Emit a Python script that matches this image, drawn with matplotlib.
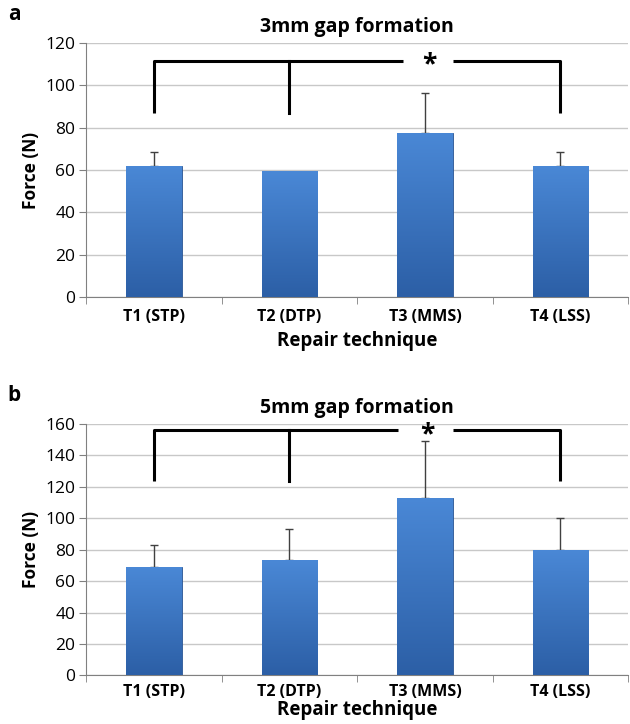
import matplotlib.pyplot as plt
import numpy as np
from matplotlib.colors import LinearSegmentedColormap

techniques = ['T1 (STP)', 'T2 (DTP)', 'T3 (MMS)', 'T4 (LSS)']

# panel a: 3mm gap
force_3mm = [62, 59.5, 77.5, 62]
err_3mm = [6.5, 0, 19, 6.5]
# panel b: 5mm gap
force_5mm = [69, 73.5, 113, 80]
err_5mm = [14, 20, 36, 20]

plt.rcParams['font.family'] = ['Open Sans', 'DejaVu Sans']

fig = plt.figure(figsize=(6.3, 7.24), dpi=100)
ax_a = fig.add_axes([0.137, 0.5898, 0.86, 0.3508])
ax_b = fig.add_axes([0.137, 0.067, 0.86, 0.3474])

grad = np.linspace(0, 1, 100).reshape(-1, 1)
cmap = LinearSegmentedColormap.from_list('bar', ['#2c5fa6', '#4a88d6'])


def panel(ax, vals, errs, ymax, step, title, letter, br_y, br_low, gap,
          tpad, lpad):
    x = np.arange(len(techniques))
    bars = ax.bar(x, vals, width=0.41, color='#3a74c2', edgecolor='#2a5593',
                  linewidth=0.6, zorder=3)
    for b in bars:
        x0, y0 = b.get_x(), b.get_y()
        w, h = b.get_width(), b.get_height()
        im = ax.imshow(grad, cmap=cmap, aspect='auto', origin='lower',
                       extent=[x0, x0 + w, y0, y0 + h], zorder=3.5)
        im.set_clip_path(b)
    errs = np.array(errs, dtype=float)
    keep = errs > 0
    ax.errorbar(x[keep], np.array(vals)[keep],
                yerr=[np.zeros(keep.sum()), errs[keep]], fmt='none',
                ecolor='#404040', elinewidth=1, capsize=3, capthick=1, zorder=2.5)

    ax.set_xlim(-0.5, len(techniques) - 0.5)
    ax.set_ylim(0, ymax)
    ax.set_yticks(np.arange(0, ymax + 1, step))
    ax.set_xticks(x)
    ax.set_xticklabels(techniques, fontweight='bold', fontsize=11.5)
    ax.set_xticks(np.arange(-0.5, len(techniques)), minor=True)
    ax.tick_params(axis='x', which='major', length=0, pad=tpad)
    ax.tick_params(axis='x', which='minor', length=5, color='#808080')
    ax.tick_params(axis='y', length=5, color='#808080', labelsize=12.5, pad=3)
    ax.grid(axis='y', color='#c8c8c8', linewidth=1, zorder=0)
    ax.set_axisbelow(True)
    for s in ['top', 'right']:
        ax.spines[s].set_visible(False)
    for s in ['left', 'bottom']:
        ax.spines[s].set_color('#808080')
    ax.set_ylabel('Force (N)', fontweight='bold', fontsize=12.5, labelpad=4)
    ax.set_xlabel('Repair technique', fontweight='bold', fontsize=13.5,
                  labelpad=lpad)
    ax.set_title(title, fontweight='bold', fontsize=14, pad=8)
    ax.text(-0.145, 1.07, letter, transform=ax.transAxes, fontsize=15,
            fontweight='bold', va='bottom')

    # significance bracket
    lw = 2.2
    ax.plot([0, 0, gap[0]], [br_low, br_y, br_y], color='black', lw=lw,
            solid_capstyle='butt', zorder=5)
    ax.plot([1, 1], [br_low, br_y], color='black', lw=lw, zorder=5)
    ax.plot([gap[1], 3, 3], [br_y, br_y, br_low], color='black', lw=lw,
            solid_capstyle='butt', zorder=5)
    ax.annotate('*', xy=((gap[0] + gap[1]) / 2 + 0.01, br_y),
                xytext=(0, -3), textcoords='offset points',
                ha='center', va='center', fontsize=19, fontweight='bold',
                zorder=5)


panel(ax_a, force_3mm, err_3mm, 120, 20, '3mm gap formation', 'a', 111.5, 87,
      (1.84, 2.21), 9, 4)
panel(ax_b, force_5mm, err_5mm, 160, 20, '5mm gap formation', 'b', 156, 124,
      (1.80, 2.21), 6, 0)

fig.savefig('out.png', dpi=100)
